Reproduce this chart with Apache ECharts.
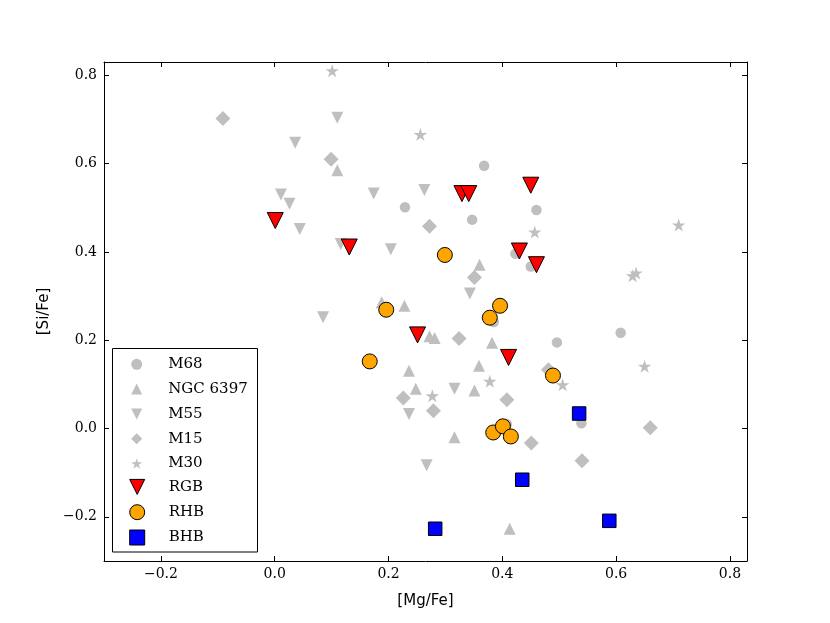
<!DOCTYPE html>
<html>
<head>
<meta charset="utf-8">
<script src="https://cdn.jsdelivr.net/npm/echarts@6/dist/echarts.min.js"></script>
<style>
  html, body { margin: 0; padding: 0; background: #fff; }
  #main { width: 830px; height: 623px; }
</style>
</head>
<body>
<div id="main"></div>
<script type="text/javascript">
    // points, [Mg/Fe, Si/Fe]
    var m68 = [[0.229,0.501],[0.368,0.595],[0.347,0.473],[0.460,0.495],[0.423,0.396],[0.450,0.367],
        [0.385,0.241],[0.496,0.195],[0.608,0.217],[0.539,0.012],[0.408,0.010]];
    var ngc6397 = [[0.110,0.585],[0.360,0.371],[0.188,0.286],[0.228,0.278],[0.272,0.209],[0.281,0.205],
        [0.382,0.194],[0.236,0.131],[0.359,0.142],[0.248,0.090],[0.351,0.086],[0.316,-0.020],[0.413,-0.227]];
    var m55 = [[0.110,0.704],[0.036,0.647],[0.011,0.530],[0.026,0.509],[0.044,0.452],[0.174,0.532],
        [0.263,0.540],[0.116,0.418],[0.204,0.406],[0.343,0.306],[0.085,0.252],[0.316,0.090],[0.236,0.033],[0.267,-0.083]];
    var m15 = [[-0.091,0.702],[0.099,0.610],[0.272,0.458],[0.351,0.342],[0.324,0.204],[0.226,0.069],
        [0.279,0.040],[0.408,0.065],[0.451,-0.033],[0.481,0.133],[0.540,-0.073],[0.660,0.002]];
    var m30 = [[0.101,0.810],[0.256,0.666],[0.457,0.445],[0.710,0.461],[0.629,0.346],[0.635,0.352],
        [0.378,0.107],[0.277,0.074],[0.506,0.099],[0.650,0.141]];
    var rgb = [[0.001,0.471],[0.131,0.411],[0.329,0.532],[0.341,0.532],[0.450,0.551],[0.430,0.402],
        [0.460,0.371],[0.251,0.212],[0.411,0.161]];
    var rhb = [[0.299,0.393],[0.196,0.269],[0.396,0.278],[0.378,0.251],[0.167,0.152],[0.489,0.120],
        [0.384,-0.009],[0.401,0.005],[0.415,-0.018]];
    var bhb = [[0.535,0.034],[0.435,-0.116],[0.282,-0.227],[0.588,-0.209]];

    var xTicks = [-0.2, 0.0, 0.2, 0.4, 0.6, 0.8];
    var yTicks = [-0.2, 0.0, 0.2, 0.4, 0.6, 0.8];

    var GRAY = '#bfbfbf';
    var DOWN = 'path://M0,0 L2,0 L1,2 Z';
    var STAR = 'path://M0,-1000 L-224,-309 L-951,-309 L-363,118 L-588,809 L0,382 L588,809 L363,118 L951,-309 L224,-309 Z';
    var SERIF = 'DejaVu Serif';

    function fmt(v) {
        return (v < 0 ? '\u2212' : '') + Math.abs(v).toFixed(1);
    }

    function axisBase(extra) {
        var a = {
            type: 'value', min: -0.3, max: 0.83,
            splitLine: { show: false },
            axisLine: { show: true, onZero: false, lineStyle: { color: '#000', width: 1 } },
            axisTick: { show: true, inside: true, length: 5, customValues: null, lineStyle: { color: '#000' } },
            axisLabel: { show: false }
        };
        for (var k in extra) a[k] = extra[k];
        return a;
    }

    var myChart = echarts.init(document.getElementById('main'), null, { renderer: 'canvas' });

    var option = {
        animation: false,
        backgroundColor: '#fff',
        grid: { left: 104, right: 83, top: 62, bottom: 62 },
        xAxis: [
            axisBase({
                position: 'bottom',
                axisTick: { show: true, inside: true, length: 5, customValues: xTicks, lineStyle: { color: '#000' } },
                axisLabel: { show: true, customValues: xTicks, formatter: fmt, margin: 6,
                    fontFamily: SERIF, fontSize: 14, color: '#000' },
                name: '[Mg/Fe]', nameLocation: 'middle', nameGap: 33,
                nameTextStyle: { fontFamily: 'DejaVu Sans', fontSize: 15, color: '#000' }
            }),
            axisBase({
                position: 'top',
                axisTick: { show: true, inside: true, length: 5, customValues: xTicks, lineStyle: { color: '#000' } }
            })
        ],
        yAxis: [
            axisBase({
                position: 'left',
                axisTick: { show: true, inside: true, length: 5, customValues: yTicks, lineStyle: { color: '#000' } },
                axisLabel: { show: true, customValues: yTicks, formatter: fmt, margin: 7,
                    fontFamily: SERIF, fontSize: 14, color: '#000' },
                name: '[Si/Fe]', nameLocation: 'middle', nameGap: 26, nameRotate: 90,
                nameTextStyle: { fontFamily: 'DejaVu Sans', fontSize: 15, color: '#000' }
            }),
            axisBase({
                position: 'right',
                axisTick: { show: true, inside: true, length: 5, customValues: yTicks, lineStyle: { color: '#000' } }
            })
        ],
        graphic: [{
            type: 'rect', z: 3,
            shape: { x: 112.5, y: 348.5, width: 145, height: 203.5 },
            style: { fill: '#fff', stroke: '#000', lineWidth: 1 }
        }],
        legend: [
            {
                data: ['M68', 'NGC 6397', 'M55', 'M15', 'M30'],
                orient: 'vertical', left: 131.2, top: 356.8, padding: 0,
                itemWidth: 11, itemHeight: 11, itemGap: 9.8, selectedMode: false, z: 5,
                textStyle: { fontFamily: SERIF, fontSize: 15, color: '#000', padding: [0, 0, 0, 21] }
            },
            {
                data: ['RGB', 'RHB', 'BHB'],
                orient: 'vertical', left: 129.2, top: 478.9, padding: 0,
                itemWidth: 15, itemHeight: 15, itemGap: 9.3, selectedMode: false, z: 5,
                itemStyle: { borderWidth: 1, borderColor: '#000' },
                textStyle: { fontFamily: SERIF, fontSize: 15, color: '#000', padding: [0, 0, 0, 19] }
            }
        ],
        series: [
            { name: 'M68', type: 'scatter', data: m68, symbol: 'circle', symbolSize: 10.5,
                itemStyle: { color: GRAY, opacity: 1 } },
            { name: 'NGC 6397', type: 'scatter', data: ngc6397, symbol: 'triangle', symbolSize: 12,
                itemStyle: { color: GRAY, opacity: 1 } },
            { name: 'M55', type: 'scatter', data: m55, symbol: DOWN, symbolSize: 12,
                itemStyle: { color: GRAY, opacity: 1 } },
            { name: 'M15', type: 'scatter', data: m15, symbol: 'diamond', symbolSize: 15,
                itemStyle: { color: GRAY, opacity: 1 } },
            { name: 'M30', type: 'scatter', data: m30, symbol: STAR, symbolSize: [13.5, 13],
                itemStyle: { color: GRAY, opacity: 1 } },
            { name: 'RGB', type: 'scatter', data: rgb, symbol: DOWN, symbolSize: 16,
                itemStyle: { color: '#ff0000', borderColor: '#000', borderWidth: 1, opacity: 1 } },
            { name: 'RHB', type: 'scatter', data: rhb, symbol: 'circle', symbolSize: 15,
                itemStyle: { color: '#ffa500', borderColor: '#000', borderWidth: 1, opacity: 1 } },
            { name: 'BHB', type: 'scatter', data: bhb, symbol: 'rect', symbolSize: 13.5,
                itemStyle: { color: '#0000ff', borderColor: '#000', borderWidth: 1, opacity: 1 } }
        ]
    };

    myChart.setOption(option);
</script>
</body>
</html>
